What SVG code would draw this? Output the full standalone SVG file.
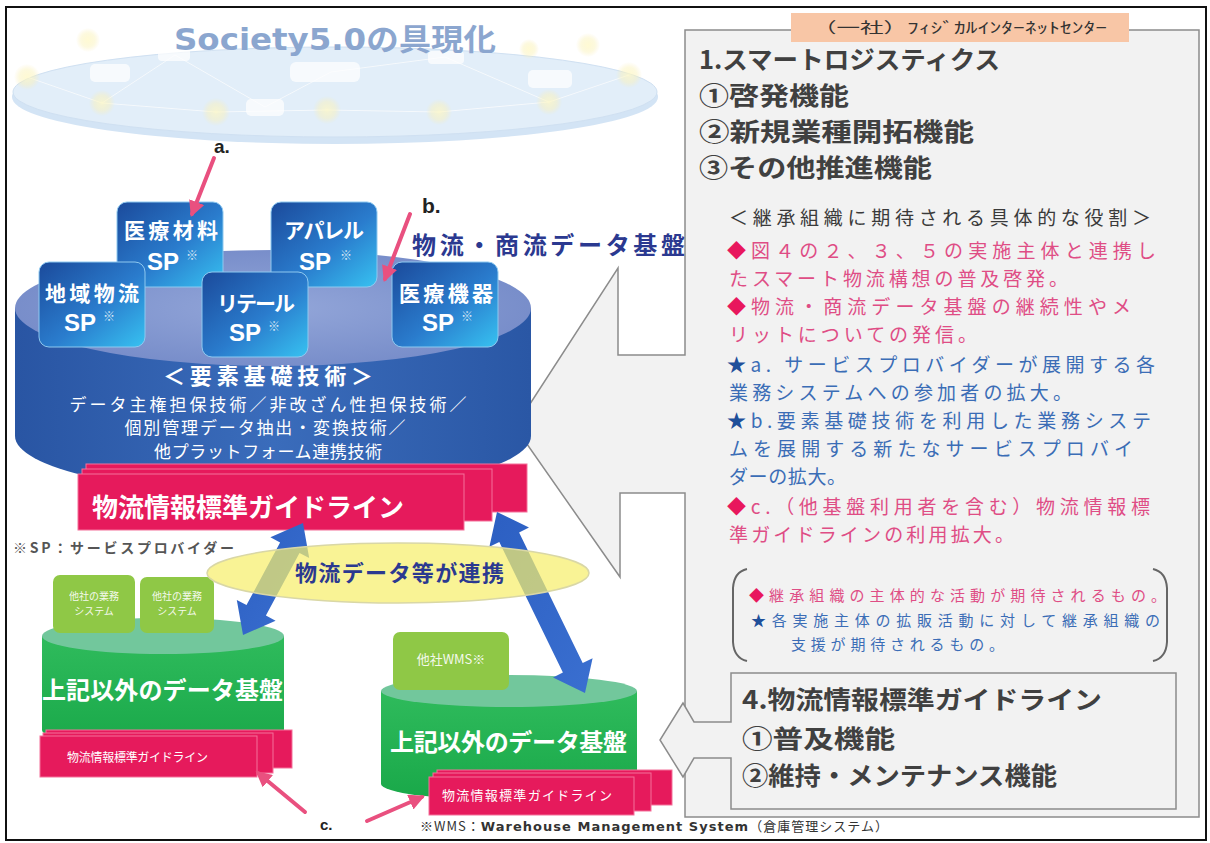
<svg xmlns="http://www.w3.org/2000/svg" width="1210" height="843" viewBox="0 0 1210 843">
<style>
  .jp { font-family: "Noto Sans CJK JP", "Noto Sans", sans-serif; }
  .head { font-size: 25px; font-weight: bold; fill: #404040; }
  .pk { font-size: 19px; fill: #df4d85; }
  .bl { font-size: 19px; fill: #3b6db6; }
  .dk { font-size: 19px; fill: #3a3a3a; }
  .pks { font-size: 15px; fill: #df4d85; }
  .bls { font-size: 15px; fill: #3b6db6; }
  .mark { fill: #e8175d; }
  .star { fill: #1f4f9a; }
  .spl { font-size: 21px; font-weight: bold; fill: #ffffff; }
  .sp { font-size: 24px; font-weight: bold; fill: #ffffff; font-family: "Liberation Sans", sans-serif; }
  .spm { font-size: 12px; fill: #ffffff; opacity: 0.8; }
  .wt { fill: #ffffff; }
  .pinkline { stroke: #e9507f; stroke-width: 4; fill: none; stroke-linecap: round; }
  .band { fill: #e61a5c; stroke: #f4709a; stroke-width: 1; }
  .lbl { font-family: "Liberation Sans", sans-serif; font-weight: bold; fill: #222; }
  .note { font-size: 14px; fill: #555; font-weight: bold; }
</style>
<defs>
  <linearGradient id="spFill" x1="0" y1="0" x2="1" y2="1">
    <stop offset="0" stop-color="#1b4a9b"/>
    <stop offset="0.55" stop-color="#2a7ccd"/>
    <stop offset="1" stop-color="#37c2f1"/>
  </linearGradient>
  <linearGradient id="cylBody" x1="0" y1="0" x2="1" y2="0">
    <stop offset="0" stop-color="#2955a3"/>
    <stop offset="0.5" stop-color="#3a6cbb"/>
    <stop offset="1" stop-color="#2a57a5"/>
  </linearGradient>
  <radialGradient id="cylTop" cx="0.5" cy="0.5" r="0.6">
    <stop offset="0" stop-color="#93a6d9"/>
    <stop offset="1" stop-color="#7389c7"/>
  </radialGradient>
  <linearGradient id="greenBody" x1="0" y1="0" x2="0" y2="1">
    <stop offset="0" stop-color="#2fbb5c"/>
    <stop offset="1" stop-color="#19a849"/>
  </linearGradient>
  <radialGradient id="glow" cx="0.5" cy="0.5" r="0.5">
    <stop offset="0" stop-color="#fff7b8"/>
    <stop offset="0.6" stop-color="#fbf0a8" stop-opacity="0.6"/>
    <stop offset="1" stop-color="#fbf0a8" stop-opacity="0"/>
  </radialGradient>
  <linearGradient id="blueArrow" x1="0" y1="0" x2="1" y2="1">
    <stop offset="0" stop-color="#2c5fc2"/>
    <stop offset="1" stop-color="#3a6fd0"/>
  </linearGradient>
  <marker id="pinkHead" viewBox="0 0 10 10" refX="8" refY="5" markerWidth="4" markerHeight="4" orient="auto">
    <path d="M0,0 L10,5 L0,10 z" fill="#e9507f"/>
  </marker>
</defs>

<rect x="0" y="0" width="1210" height="843" fill="#ffffff"/>
<rect x="6" y="7" width="1200" height="833" fill="none" stroke="#111" stroke-width="2"/>

<!-- Society 5.0 disk -->
<g id="society-disk" opacity="0.8">
  <ellipse cx="335" cy="97" rx="323" ry="47" fill="#c9def3"/>
  <ellipse cx="335" cy="92" rx="322" ry="45" fill="#dbeaf8" stroke="#c4d9ef" stroke-width="1"/>
  <g stroke="#ffffff" stroke-width="1" opacity="0.7" fill="none">
    <path d="M27 77 L102 103 L216 112 L327 110 L439 112 L549 102 L629 75"/>
    <path d="M102 103 L175 55 L265 107 L331 72 L445 57 L549 102"/>
  </g>
  <g fill="url(#glow)" opacity="0.75">
    <circle cx="27" cy="77" r="13"/>
    <circle cx="102" cy="103" r="13"/>
    <circle cx="216" cy="112" r="14"/>
    <circle cx="327" cy="110" r="14"/>
    <circle cx="439" cy="112" r="13"/>
    <circle cx="549" cy="102" r="13"/>
    <circle cx="629" cy="75" r="13"/>
    <circle cx="88" cy="40" r="12"/>
    <circle cx="588" cy="45" r="12"/>
    <circle cx="529" cy="49" r="10"/>
  </g>
  <g fill="#ffffff" opacity="0.75">
    <rect x="90" y="64" width="40" height="18" rx="5"/>
    <rect x="158" y="48" width="32" height="13" rx="4"/>
    <rect x="290" y="62" width="70" height="20" rx="6"/>
    <rect x="246" y="99" width="38" height="17" rx="5"/>
    <rect x="428" y="51" width="36" height="13" rx="4"/>
    <rect x="528" y="70" width="44" height="18" rx="5"/>
  </g>
  <text x="335" y="50" text-anchor="middle" font-family="DejaVu Sans, Noto Sans CJK JP, sans-serif" font-size="30" font-weight="bold" fill="#6f90c4" textLength="322" lengthAdjust="spacingAndGlyphs">Society5.0<tspan font-family="Noto Sans CJK JP, sans-serif">の具現化</tspan></text>
</g>

<!-- right panel with callout toward the blue platform -->
<g id="panel">
  <path d="M685 30 L1199 30 L1199 817 L685 817 L685 493 L620 493 L620 577 L515 427 L618 268 L618 355 L685 355 Z" fill="#f2f2f2" stroke="#8c8c8c" stroke-width="1.5"/>
  <rect x="791" y="13" width="338" height="29" fill="#f8c6a6"/>
  <text class="jp" x="960" y="33" text-anchor="middle" font-size="15" fill="#333" textLength="294" lengthAdjust="spacingAndGlyphs">（一社）ﾌｨｼﾞｶﾙｲﾝﾀｰﾈｯﾄｾﾝﾀｰ</text>
</g>

<g id="panel-headings" class="jp">
  <text class="head" x="699" y="69" textLength="301" lengthAdjust="spacingAndGlyphs">1.スマートロジスティクス</text>
  <text class="head" x="699" y="105" textLength="150" lengthAdjust="spacingAndGlyphs">①啓発機能</text>
  <text class="head" x="699" y="141" textLength="275" lengthAdjust="spacingAndGlyphs">②新規業種開拓機能</text>
  <text class="head" x="699" y="177" textLength="233" lengthAdjust="spacingAndGlyphs">③その他推進機能</text>
</g>

<g id="panel-roles" class="jp">
  <text class="dk" x="729" y="225" textLength="422" lengthAdjust="spacing">＜継承組織に期待される具体的な役割＞</text>
  <text class="pk" x="727" y="258" textLength="429" lengthAdjust="spacing"><tspan class="mark">◆</tspan>図４の２、３、５の実施主体と連携し</text>
  <text class="pk" x="729" y="286" textLength="339" lengthAdjust="spacing">たスマート物流構想の普及啓発。</text>
  <text class="pk" x="727" y="314" textLength="404" lengthAdjust="spacing"><tspan class="mark">◆</tspan>物流・商流データ基盤の継続性やメ</text>
  <text class="pk" x="729" y="342" textLength="248" lengthAdjust="spacing">リットについての発信。</text>
  <text class="bl" x="727" y="372" textLength="428" lengthAdjust="spacing"><tspan class="star">★</tspan>a. サービスプロバイダーが展開する各</text>
  <text class="bl" x="729" y="400" textLength="343" lengthAdjust="spacing">業務システムへの参加者の拡大。</text>
  <text class="bl" x="727" y="428" textLength="424" lengthAdjust="spacing"><tspan class="star">★</tspan>b.要素基礎技術を利用した業務システ</text>
  <text class="bl" x="729" y="456" textLength="404" lengthAdjust="spacing">ムを展開する新たなサービスプロバイ</text>
  <text class="bl" x="729" y="484" textLength="117" lengthAdjust="spacing">ダーの拡大。</text>
  <text class="pk" x="727" y="514" textLength="423" lengthAdjust="spacing"><tspan class="mark">◆</tspan>c.（他基盤利用者を含む）物流情報標</text>
  <text class="pk" x="729" y="542" textLength="285" lengthAdjust="spacing">準ガイドラインの利用拡大。</text>
</g>

<g id="legend-note" class="jp">
  <path d="M747 569 Q734 572 733 588 L733 642 Q734 658 747 661" fill="none" stroke="#666" stroke-width="2"/>
  <path d="M1153 569 Q1166 572 1167 588 L1167 642 Q1166 658 1153 661" fill="none" stroke="#666" stroke-width="2"/>
  <text class="pks" x="749" y="601" textLength="417" lengthAdjust="spacing"><tspan class="mark">◆</tspan>継承組織の主体的な活動が期待されるもの。</text>
  <text class="bls" x="751" y="626" textLength="409" lengthAdjust="spacing"><tspan class="star">★</tspan>各実施主体の拡販活動に対して継承組織の</text>
  <text class="bls" x="791" y="650" textLength="213" lengthAdjust="spacing">支援が期待されるもの。</text>
</g>

<g id="guideline-box" class="jp">
  <path d="M731 673 L1176 673 L1176 809 L731 809 L731 758 L694 758 L683 777 L660 740 L683 703 L694 722 L731 722 Z" fill="#f2f2f2" stroke="#8c8c8c" stroke-width="1.5"/>
  <text class="head" x="742" y="709" textLength="360" lengthAdjust="spacingAndGlyphs">4.物流情報標準ガイドライン</text>
  <text class="head" x="742" y="748" textLength="153" lengthAdjust="spacingAndGlyphs">①普及機能</text>
  <text class="head" x="742" y="785" textLength="315" lengthAdjust="spacingAndGlyphs">②維持・メンテナンス機能</text>
</g>

<!-- blue logistics / commerce data platform -->
<g id="blue-platform">
  <path d="M15 308 L15 436 A258 58 0 0 0 531 436 L531 308 Z" fill="url(#cylBody)"/>
  <ellipse cx="273" cy="308" rx="258" ry="58" fill="url(#cylTop)"/>
</g>

<g id="sp-iryozairyo">
  <rect x="117" y="202" width="106" height="85" rx="10" fill="url(#spFill)" stroke="#8ec9f0" stroke-width="1"/>
  <text class="jp spl" x="171" y="238" text-anchor="middle" textLength="94" lengthAdjust="spacing">医療材料</text>
  <text class="sp" x="163" y="270" text-anchor="middle">SP</text><text class="jp spm" x="186" y="260">※</text>
</g>
<g id="sp-apparel">
  <rect x="271" y="202" width="106" height="85" rx="10" fill="url(#spFill)" stroke="#8ec9f0" stroke-width="1"/>
  <text class="jp spl" x="324" y="238" text-anchor="middle" textLength="80" lengthAdjust="spacing">アパレル</text>
  <text class="sp" x="315" y="270" text-anchor="middle">SP</text><text class="jp spm" x="340" y="260">※</text>
</g>
<g id="sp-chiiki">
  <rect x="39" y="262" width="106" height="85" rx="10" fill="url(#spFill)" stroke="#8ec9f0" stroke-width="1"/>
  <text class="jp spl" x="92" y="301" text-anchor="middle" textLength="94" lengthAdjust="spacing">地域物流</text>
  <text class="sp" x="80" y="331" text-anchor="middle">SP</text><text class="jp spm" x="103" y="321">※</text>
</g>
<g id="sp-retail">
  <rect x="202" y="272" width="106" height="85" rx="10" fill="url(#spFill)" stroke="#8ec9f0" stroke-width="1"/>
  <text class="jp spl" x="256" y="311" text-anchor="middle" textLength="78" lengthAdjust="spacing">リテール</text>
  <text class="sp" x="245" y="341" text-anchor="middle">SP</text><text class="jp spm" x="268" y="331">※</text>
</g>
<g id="sp-iryokiki">
  <rect x="392" y="262" width="106" height="85" rx="10" fill="url(#spFill)" stroke="#8ec9f0" stroke-width="1"/>
  <text class="jp spl" x="446" y="301" text-anchor="middle" textLength="94" lengthAdjust="spacing">医療機器</text>
  <text class="sp" x="438" y="331" text-anchor="middle">SP</text><text class="jp spm" x="461" y="321">※</text>
</g>

<g id="platform-title">
  <text class="jp" x="412" y="254" font-size="24" font-weight="bold" fill="#2b3990" textLength="273" lengthAdjust="spacing">物流・商流データ基盤</text>
</g>

<g id="main-guideline">
  <rect class="band" x="86" y="464" width="441" height="48"/>
  <rect class="band" x="82" y="469" width="410" height="52"/>
  <rect class="band" x="78" y="474" width="386" height="56"/>
  <text class="jp wt" x="92" y="517" font-size="26" font-weight="bold" textLength="312" lengthAdjust="spacing">物流情報標準ガイドライン</text>
</g>

<g id="platform-tech" class="jp wt" text-anchor="middle">
  <text x="268" y="384" font-size="22" font-weight="bold" textLength="210" lengthAdjust="spacing">＜要素基礎技術＞</text>
  <text x="268" y="411" font-size="17" textLength="397" lengthAdjust="spacing">データ主権担保技術／非改ざん性担保技術／</text>
  <text x="265" y="434" font-size="17" textLength="281" lengthAdjust="spacing">個別管理データ抽出・変換技術／</text>
  <text x="268" y="458" font-size="17" textLength="228" lengthAdjust="spacing">他プラットフォーム連携技術</text>
</g>

<g id="sp-note">
  <text class="jp note" x="13" y="553" textLength="221" lengthAdjust="spacing">※SP：サービスプロバイダー</text>
</g>

<!-- left green data platform -->
<g id="green-platform-left">
  <path d="M42 636 L42 730 A121 18 0 0 0 284 730 L284 636 Z" fill="url(#greenBody)"/>
  <ellipse cx="163" cy="636" rx="121" ry="18" fill="#72c79c"/>
  <rect x="53" y="575" width="82" height="58" rx="7" fill="#8fc846"/>
  <rect x="140" y="577" width="74" height="56" rx="7" fill="#8fc846"/>
  <g class="jp" font-size="10" fill="#ffffff" text-anchor="middle" opacity="0.9">
    <text x="94" y="600">他社の業務</text>
    <text x="94" y="615">システム</text>
    <text x="177" y="600">他社の業務</text>
    <text x="177" y="615">システム</text>
  </g>
  <text class="jp wt" x="42" y="699" font-size="24" font-weight="bold" textLength="241" lengthAdjust="spacing">上記以外のデータ基盤</text>
  <rect class="band" x="46" y="730" width="246" height="38"/>
  <rect class="band" x="43" y="733" width="230" height="40"/>
  <rect class="band" x="40" y="736" width="217" height="41"/>
  <text class="jp wt" x="67" y="762" font-size="12" textLength="141" lengthAdjust="spacing">物流情報標準ガイドライン</text>
</g>

<!-- right green data platform -->
<g id="green-platform-right">
  <path d="M381 691 L381 784 A128 16 0 0 0 637 784 L637 691 Z" fill="url(#greenBody)"/>
  <ellipse cx="509" cy="691" rx="128" ry="16" fill="#72c79c"/>
  <rect x="393" y="632" width="116" height="58" rx="7" fill="#8fc846"/>
  <text class="jp" x="451" y="664" font-size="13" fill="#ffffff" text-anchor="middle" opacity="0.9">他社WMS※</text>
  <text class="jp wt" x="390" y="751" font-size="24" font-weight="bold" textLength="237" lengthAdjust="spacing">上記以外のデータ基盤</text>
  <rect class="band" x="437" y="770" width="235" height="35"/>
  <rect class="band" x="433" y="773" width="218" height="38"/>
  <rect class="band" x="429" y="777" width="205" height="38"/>
  <text class="jp wt" x="442" y="800" font-size="13" textLength="170" lengthAdjust="spacing">物流情報標準ガイドライン</text>
</g>

<!-- connectors -->
<g id="connectors">
  <polygon points="303,523 309.2,558.1 299.5,552.9 265.9,615.5 275.6,620.7 243,635 236.8,599.9 246.5,605.1 280.1,542.5 270.4,537.3" fill="url(#blueArrow)"/>
  <polygon points="497,512 529,527.6 519.1,532.4 582.7,663 592.6,658.2 585,693 553,677.4 562.9,672.6 499.3,542 489.4,546.8" fill="url(#blueArrow)"/>
  <ellipse cx="398" cy="573" rx="191" ry="30" fill="#f6ef6c" fill-opacity="0.72" stroke="#d9d7a6" stroke-width="1.5"/>
  <text class="jp" x="295" y="581" font-size="22" font-weight="bold" fill="#2b3990" textLength="209" lengthAdjust="spacing">物流データ等が連携</text>
  <line class="pinkline" x1="214" y1="158" x2="192" y2="214" marker-end="url(#pinkHead)"/>
  <line class="pinkline" x1="410" y1="214" x2="385" y2="279" marker-end="url(#pinkHead)"/>
  <line class="pinkline" x1="305" y1="812" x2="258" y2="773" marker-end="url(#pinkHead)"/>
  <line class="pinkline" x1="367" y1="821" x2="422" y2="797" marker-end="url(#pinkHead)"/>
</g>

<g id="labels">
  <text class="lbl" x="214" y="153" font-size="19">a.</text>
  <text class="lbl" x="422" y="213" font-size="21">b.</text>
  <text class="lbl" x="320" y="830" font-size="15">c.</text>
  <text class="jp" x="420" y="831" font-size="13" fill="#333" textLength="468" lengthAdjust="spacing">※WMS：<tspan font-family="DejaVu Sans, sans-serif" font-weight="bold">Warehouse Management System</tspan>（倉庫管理システム）</text>
</g>
</svg>
